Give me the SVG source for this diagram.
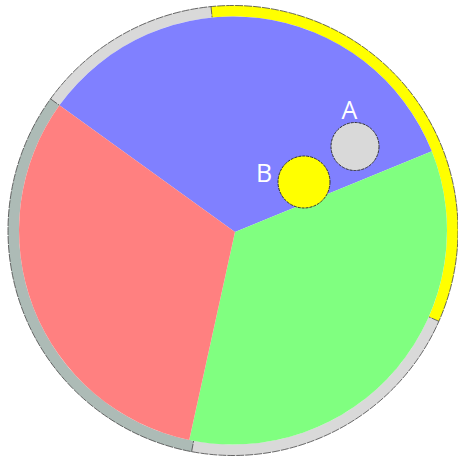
<svg xmlns="http://www.w3.org/2000/svg" width="458" height="459" viewBox="0 0 458 459">
  <style>
    .edge { stroke: #444; stroke-width: 0.8; fill: none; stroke-dasharray: 8 1; }
    .dot { stroke: #333; stroke-width: 1; stroke-dasharray: 3 1; }
    .lbl { font-family: "Open Sans", "Liberation Sans", sans-serif; font-size: 25px; fill: #ffffff; text-anchor: middle; }
  </style>
  <rect width="458" height="459" fill="#ffffff"/>
  <g id="ring">
    <path id="ring-yellow" fill="#ffff00" d="M 211.04 6.57 A 225 225 0 0 1 438.87 321.30 L 428.80 316.86 A 214 214 0 0 0 212.12 17.52 Z"/>
    <path id="ring-gray-right" fill="#d9d9d9" d="M 438.87 321.30 A 225 225 0 0 1 191.62 451.66 L 193.64 440.85 A 214 214 0 0 0 428.80 316.86 Z"/>
    <path id="ring-gray-left" fill="#adbbb6" d="M 191.62 451.66 A 225 225 0 0 1 50.51 98.88 L 59.43 105.32 A 214 214 0 0 0 193.64 440.85 Z"/>
    <path id="ring-gray-top" fill="#d9d9d9" d="M 50.51 98.88 A 225 225 0 0 1 211.04 6.57 L 212.12 17.52 A 214 214 0 0 0 59.43 105.32 Z"/>
    <circle class="edge" cx="233" cy="230.5" r="225"/>
    <path class="edge" d="M 211.04 6.57 L 212.12 17.52 M 438.87 321.30 L 428.80 316.86 M 191.62 451.66 L 193.64 440.85 M 50.51 98.88 L 59.43 105.32"/>
  </g>
  <g id="pie">
    <path id="blue" fill="#8080ff" d="M 235 232 L 59.43 105.32 A 214 214 0 0 1 431.83 151.37 Z"/>
    <path id="green" fill="#80ff80" d="M 235 232 L 431.83 151.37 A 214 214 0 0 1 189.24 439.98 Z"/>
    <path id="red" fill="#ff8080" d="M 235 232 L 189.24 439.98 A 214 214 0 0 1 59.43 105.32 Z"/>
  </g>
  <g id="nodeA">
    <circle class="dot" cx="355" cy="146.5" r="24" fill="#d9d9d9"/>
    <text class="lbl" x="349.5" y="119">A</text>
  </g>
  <g id="nodeB">
    <circle class="dot" cx="304" cy="182" r="26" fill="#ffff00"/>
    <text class="lbl" x="264" y="182">B</text>
  </g>
</svg>
